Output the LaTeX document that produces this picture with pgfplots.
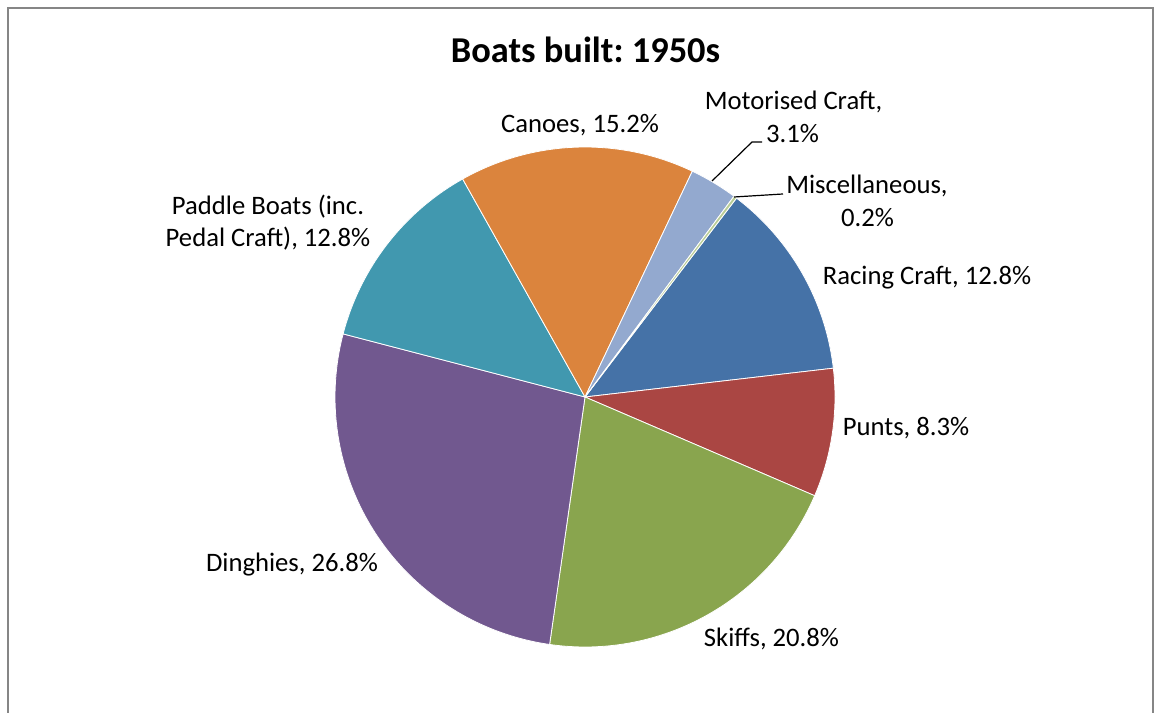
\documentclass[border=0pt]{standalone}
\usepackage{pgfplots}
\usepackage{pgfplotstable}
\usepackage{fontspec}
\setmainfont{Carlito}
\pgfplotsset{compat=1.18}
\frenchspacing

% slice colours, in the order of the table below
\definecolor{slice0}{HTML}{4572A7}
\definecolor{slice1}{HTML}{AA4643}
\definecolor{slice2}{HTML}{89A54E}
\definecolor{slice3}{HTML}{71588F}
\definecolor{slice4}{HTML}{4198AF}
\definecolor{slice5}{HTML}{DB843D}
\definecolor{slice6}{HTML}{93A9CF}
\definecolor{slice7}{HTML}{B9CD96}
\definecolor{frame}{HTML}{868686}

% share of boats built, clockwise from Racing Craft
\pgfplotstableread{
pct
12.8
8.3
20.8
26.8
12.8
15.2
3.1
0.2
}\boats

\newcommand{\lbl}{\fontsize{20}{25}\selectfont}

\begin{document}
\begin{tikzpicture}
\useasboundingbox (0,0) rectangle (872.25pt,534.75pt);
\draw[frame, line width=1.6pt] (6pt,-5pt) -- (6pt,528.75pt) -- (864.75pt,528.75pt) -- (864.75pt,-5pt);
\begin{axis}[
  at={(0,0)}, anchor=south west,
  x=0.75pt, y=0.75pt,
  xmin=-585, xmax=578, ymin=-316, ymax=397,
  hide axis, clip=false,
]
\pgfmathsetmacro{\angstart}{52.7}
\pgfplotsforeachungrouped \i in {0,...,7}{
  \pgfplotstablegetelem{\i}{pct}\of\boats
  \pgfmathsetmacro{\angend}{\angstart-3.6*\pgfplotsretval}
  \edef\slice{\noexpand\addplot[fill=slice\i, draw=white, line width=0.6pt, data cs=polar]
    coordinates {(0,0) (\angstart,250)}
    arc[start angle=\angstart, end angle=\angend, radius=187.5pt] -- cycle;}
  \slice
  \global\let\angstart\angend
}

% title and data labels
\node[anchor=base, font=\fontsize{27.3}{32}\selectfont\bfseries] at (axis cs:0.5,334) {Boats built: 1950s};
\node[anchor=base, font=\lbl] at (axis cs:-5,264.3) {Canoes, 15.2\%};
\node[anchor=base, font=\lbl] at (axis cs:208.5,287.7) {Motorised Craft,};
\node[anchor=base, font=\lbl] at (axis cs:207.5,254.3) {3.1\%};
\node[anchor=base, font=\lbl] at (axis cs:282,203.7) {Miscellaneous,};
\node[anchor=base, font=\lbl] at (axis cs:282.5,170.3) {0.2\%};
\node[anchor=base, font=\lbl] at (axis cs:342,112) {Racing Craft, 12.8\%};
\node[anchor=base, font=\lbl] at (axis cs:321,-38.7) {Punts, 8.3\%};
\node[anchor=base, font=\lbl] at (axis cs:186.5,-249.7) {Skiffs, 20.8\%};
\node[anchor=base, font=\lbl] at (axis cs:-293,-174.7) {Dinghies, 26.8\%};
\node[anchor=base, font=\lbl] at (axis cs:-317,182) {Paddle Boats (inc.};
\node[anchor=base, font=\lbl] at (axis cs:-317,150.3) {Pedal Craft), 12.8\%};

% leader lines
\draw[black, line width=0.9pt] (axis cs:177,255) -- (axis cs:167,255) -- (axis cs:127,216);
\draw[black, line width=0.9pt] (axis cs:198,203) -- (axis cs:149,200);
\end{axis}
\end{tikzpicture}
\end{document}
